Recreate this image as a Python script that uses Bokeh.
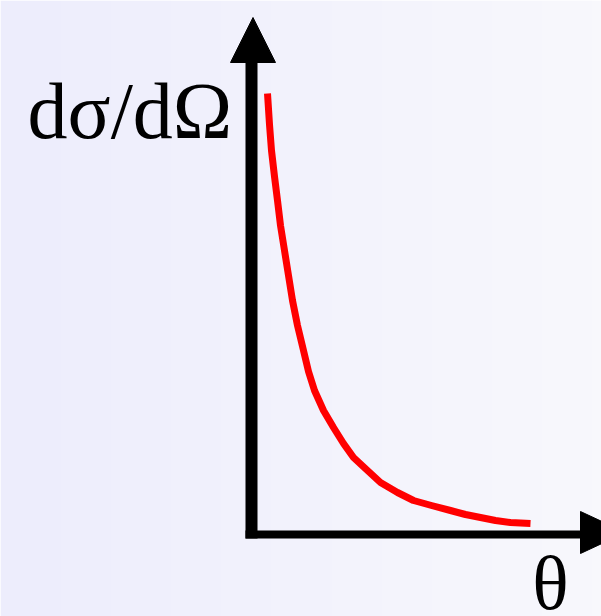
import numpy as np
from bokeh.plotting import figure
from bokeh.models import Range1d
from bokeh.core.properties import value
from bokeh.embed import file_html
from bokeh.resources import INLINE

# Angular distribution: scattering angle (arbitrary units) vs. differential cross-section
theta = [16, 18, 20, 23, 26, 29, 33, 37, 41, 46, 52, 57, 63, 72, 82, 92, 102, 116, 129,
         146, 162, 180, 199, 214, 229, 244, 259, 279]
dsigma = [441, 410, 384, 358, 334, 309, 284, 259, 234, 209, 184, 163, 144, 124, 107, 91,
          77, 64, 52, 42, 34, 29, 24, 20, 17, 14, 12, 11]

y_label = "dσ/dΩ"
x_label = "θ"

W, H = 601, 616
X0, Y0 = 251, 534  # origin of the axes, in canvas pixels

p = figure(width=W, height=H, output_backend="svg", toolbar_location=None,
           x_range=Range1d(-X0, W - X0), y_range=Range1d(Y0 - H, Y0),
           min_border=0, outline_line_color=None)
p.axis.visible = False
p.grid.visible = False

# soft lavender backdrop, slightly deeper on the left
left = np.array([237, 237, 252], dtype=float)
right = np.array([248, 248, 252], dtype=float)
t = np.linspace(0, 1, 60)[None, :, None]
rgb = (left + (right - left) * t).astype(np.uint8)
img = np.empty((2, 60), dtype=np.uint32)
view = img.view(dtype=np.uint8).reshape((2, 60, 4))
view[:, :, 0:3] = rgb
view[:, :, 3] = 255
p.image_rgba(image=[img], x=-X0, y=Y0 - H, dw=W, dh=H)

# axes with arrow heads
p.segment(x0=[0], y0=[-4], x1=[0], y1=[473], line_color="black", line_width=12)
p.segment(x0=[-6], y0=[0], x1=[330], y1=[0], line_color="black", line_width=8)
p.patch(x=[-21, 24, 1.5], y=[472, 472, 517], color="black", line_width=1)
p.patch(x=[329, 329, 374], y=[23, -19, 2], color="black", line_width=1)

# cross-section curve
p.line(theta, dsigma, line_color="#ff0000", line_width=7, line_join="round")

p.text(x=[-224], y=[424], text=[y_label], text_font=value("Liberation Serif"),
       text_font_size="80px", text_align="left", text_baseline="alphabetic",
       text_color="black")
p.text(x=[299], y=[-48], text=[x_label], text_font=value("Liberation Serif"),
       text_font_size="76px", text_align="center", text_baseline="alphabetic",
       text_color="black")

open("out.html", "w").write(file_html(p, INLINE))
